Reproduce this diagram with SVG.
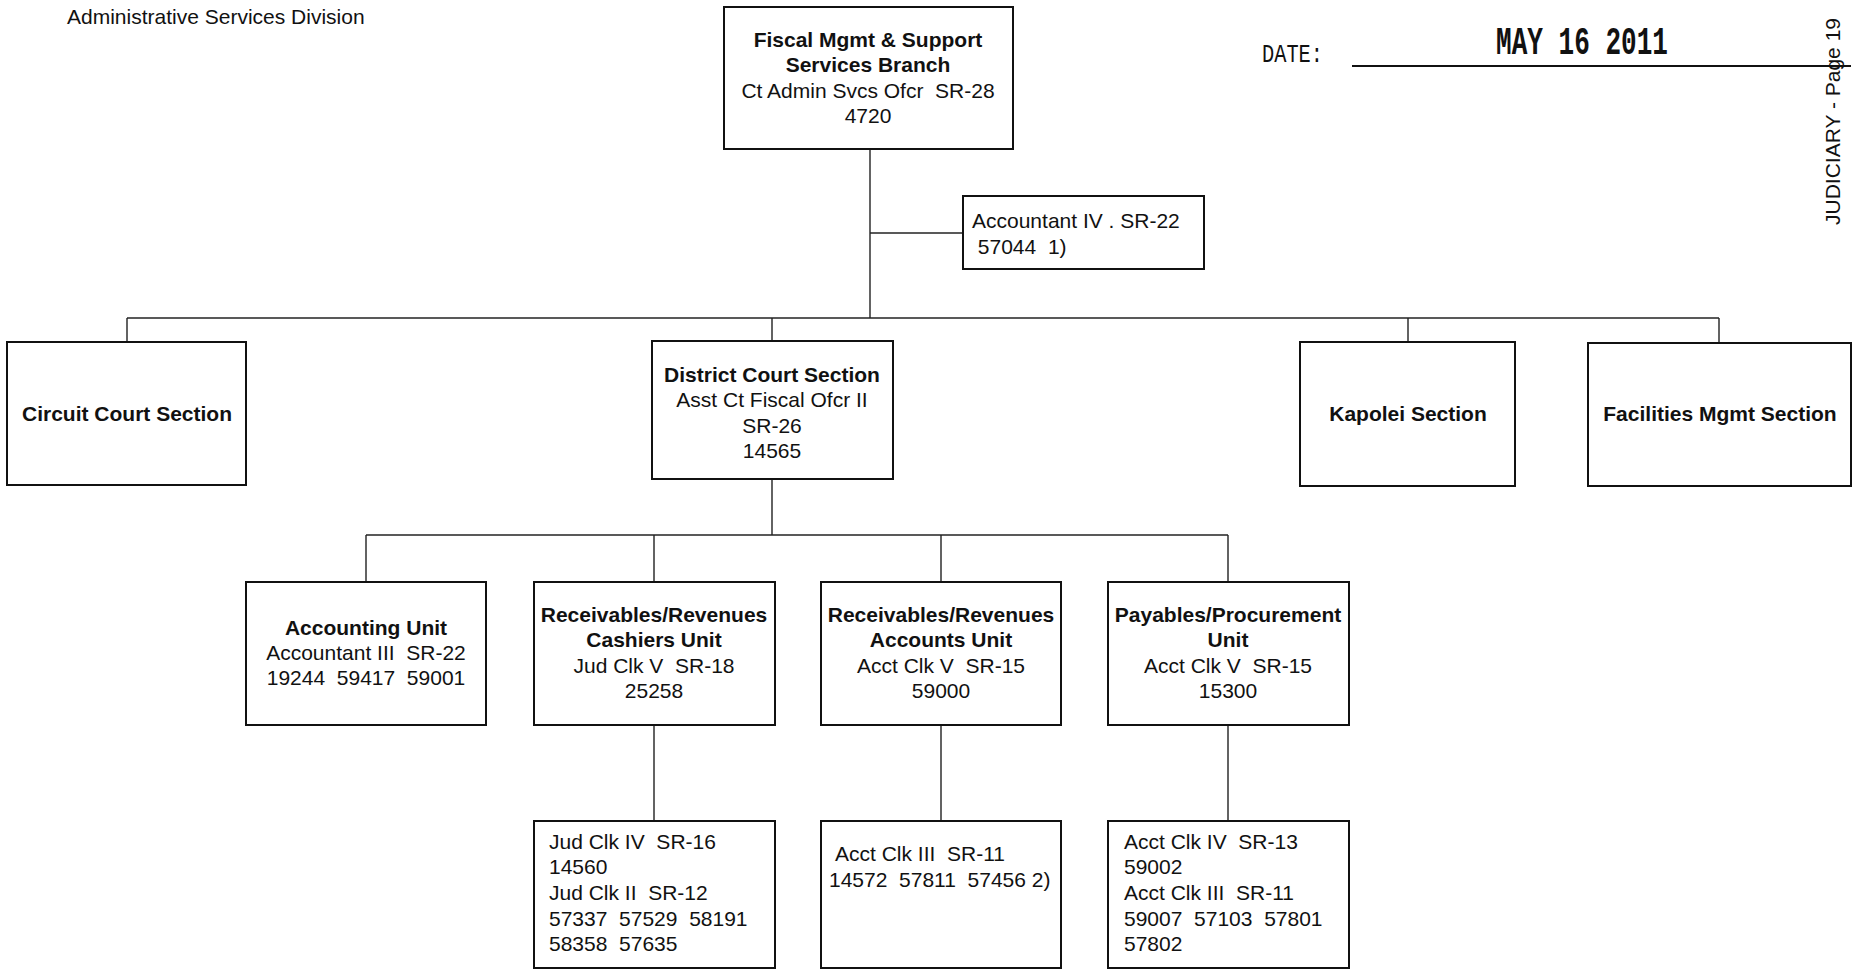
<svg xmlns="http://www.w3.org/2000/svg" width="1855" height="972" viewBox="0 0 1855 972">
<style>
  text { font-family: "Liberation Sans", Arial, sans-serif; font-size: 21px; fill: #111; white-space: pre; }
  .c { text-anchor: middle; }
  .b { font-weight: bold; }
  .box { fill: #fff; stroke: #111; stroke-width: 2; }
  .ln { fill: none; stroke: #222; stroke-width: 1.4; }
  .mono { font-family: "Liberation Mono", "Courier New", monospace; }
</style>
<rect width="1855" height="972" fill="#fff"/>

<text x="67" y="24">Administrative Services Division</text>

<g id="date">
  <text class="mono" x="1262" y="62" style="font-size:26px" textLength="61" lengthAdjust="spacingAndGlyphs">DATE:</text>
  <line x1="1352" y1="66" x2="1851" y2="66" stroke="#111" stroke-width="2"/>
  <text class="mono b" x="1496" y="54" style="font-size:38px" textLength="172" lengthAdjust="spacingAndGlyphs">MAY 16 2011</text>
</g>
<text transform="translate(1840,225) rotate(-90)">JUDICIARY - Page 19</text>

<g id="connectors">
  <path class="ln" d="M870,149 V318"/>
  <path class="ln" d="M870,233 H963"/>
  <path class="ln" d="M127,318 H1719"/>
  <path class="ln" d="M127,318 V342 M772,318 V341 M1408,318 V342 M1719,318 V343"/>
  <path class="ln" d="M772,479 V535"/>
  <path class="ln" d="M366,535 H1228"/>
  <path class="ln" d="M366,535 V582 M654,535 V582 M941,535 V582 M1228,535 V582"/>
  <path class="ln" d="M654,725 V821 M941,725 V821 M1228,725 V821"/>
</g>

<g id="fiscal">
  <rect class="box" x="724" y="7" width="289" height="142"/>
  <text class="c b" x="868" y="47">Fiscal Mgmt &amp; Support</text>
  <text class="c b" x="868" y="72">Services Branch</text>
  <text class="c" x="868" y="98">Ct Admin Svcs Ofcr  SR-28</text>
  <text class="c" x="868" y="123">4720</text>
</g>

<g id="accountant4">
  <rect class="box" x="963" y="196" width="241" height="73"/>
  <text x="972" y="228">Accountant IV . SR-22</text>
  <text x="972" y="254"> 57044  1)</text>
</g>

<g id="circuit">
  <rect class="box" x="7" y="342" width="239" height="143"/>
  <text class="c b" x="127" y="421">Circuit Court Section</text>
</g>

<g id="district">
  <rect class="box" x="652" y="341" width="241" height="138"/>
  <text class="c b" x="772" y="382">District Court Section</text>
  <text class="c" x="772" y="407">Asst Ct Fiscal Ofcr II</text>
  <text class="c" x="772" y="433">SR-26</text>
  <text class="c" x="772" y="458">14565</text>
</g>

<g id="kapolei">
  <rect class="box" x="1300" y="342" width="215" height="144"/>
  <text class="c b" x="1408" y="421">Kapolei Section</text>
</g>

<g id="facilities">
  <rect class="box" x="1588" y="343" width="263" height="143"/>
  <text class="c b" x="1720" y="421">Facilities Mgmt Section</text>
</g>

<g id="accounting">
  <rect class="box" x="246" y="582" width="240" height="143"/>
  <text class="c b" x="366" y="635">Accounting Unit</text>
  <text class="c" x="366" y="660">Accountant III  SR-22</text>
  <text class="c" x="366" y="685">19244  59417  59001</text>
</g>

<g id="cashiers">
  <rect class="box" x="534" y="582" width="241" height="143"/>
  <text class="c b" x="654" y="622">Receivables/Revenues</text>
  <text class="c b" x="654" y="647">Cashiers Unit</text>
  <text class="c" x="654" y="673">Jud Clk V  SR-18</text>
  <text class="c" x="654" y="698">25258</text>
</g>

<g id="accounts">
  <rect class="box" x="821" y="582" width="240" height="143"/>
  <text class="c b" x="941" y="622">Receivables/Revenues</text>
  <text class="c b" x="941" y="647">Accounts Unit</text>
  <text class="c" x="941" y="673">Acct Clk V  SR-15</text>
  <text class="c" x="941" y="698">59000</text>
</g>

<g id="payables">
  <rect class="box" x="1108" y="582" width="241" height="143"/>
  <text class="c b" x="1228" y="622">Payables/Procurement</text>
  <text class="c b" x="1228" y="647">Unit</text>
  <text class="c" x="1228" y="673">Acct Clk V  SR-15</text>
  <text class="c" x="1228" y="698">15300</text>
</g>

<g id="judclk">
  <rect class="box" x="534" y="821" width="241" height="147"/>
  <text x="549" y="849">Jud Clk IV  SR-16</text>
  <text x="549" y="874">14560</text>
  <text x="549" y="900">Jud Clk II  SR-12</text>
  <text x="549" y="926">57337  57529  58191</text>
  <text x="549" y="951">58358  57635</text>
</g>

<g id="acctclk3">
  <rect class="box" x="821" y="821" width="240" height="147"/>
  <text x="835" y="861">Acct Clk III  SR-11</text>
  <text x="829" y="887">14572  57811  57456 2)</text>
</g>

<g id="acctclk4">
  <rect class="box" x="1108" y="821" width="241" height="147"/>
  <text x="1124" y="849">Acct Clk IV  SR-13</text>
  <text x="1124" y="874">59002</text>
  <text x="1124" y="900">Acct Clk III  SR-11</text>
  <text x="1124" y="926">59007  57103  57801</text>
  <text x="1124" y="951">57802</text>
</g>
</svg>
